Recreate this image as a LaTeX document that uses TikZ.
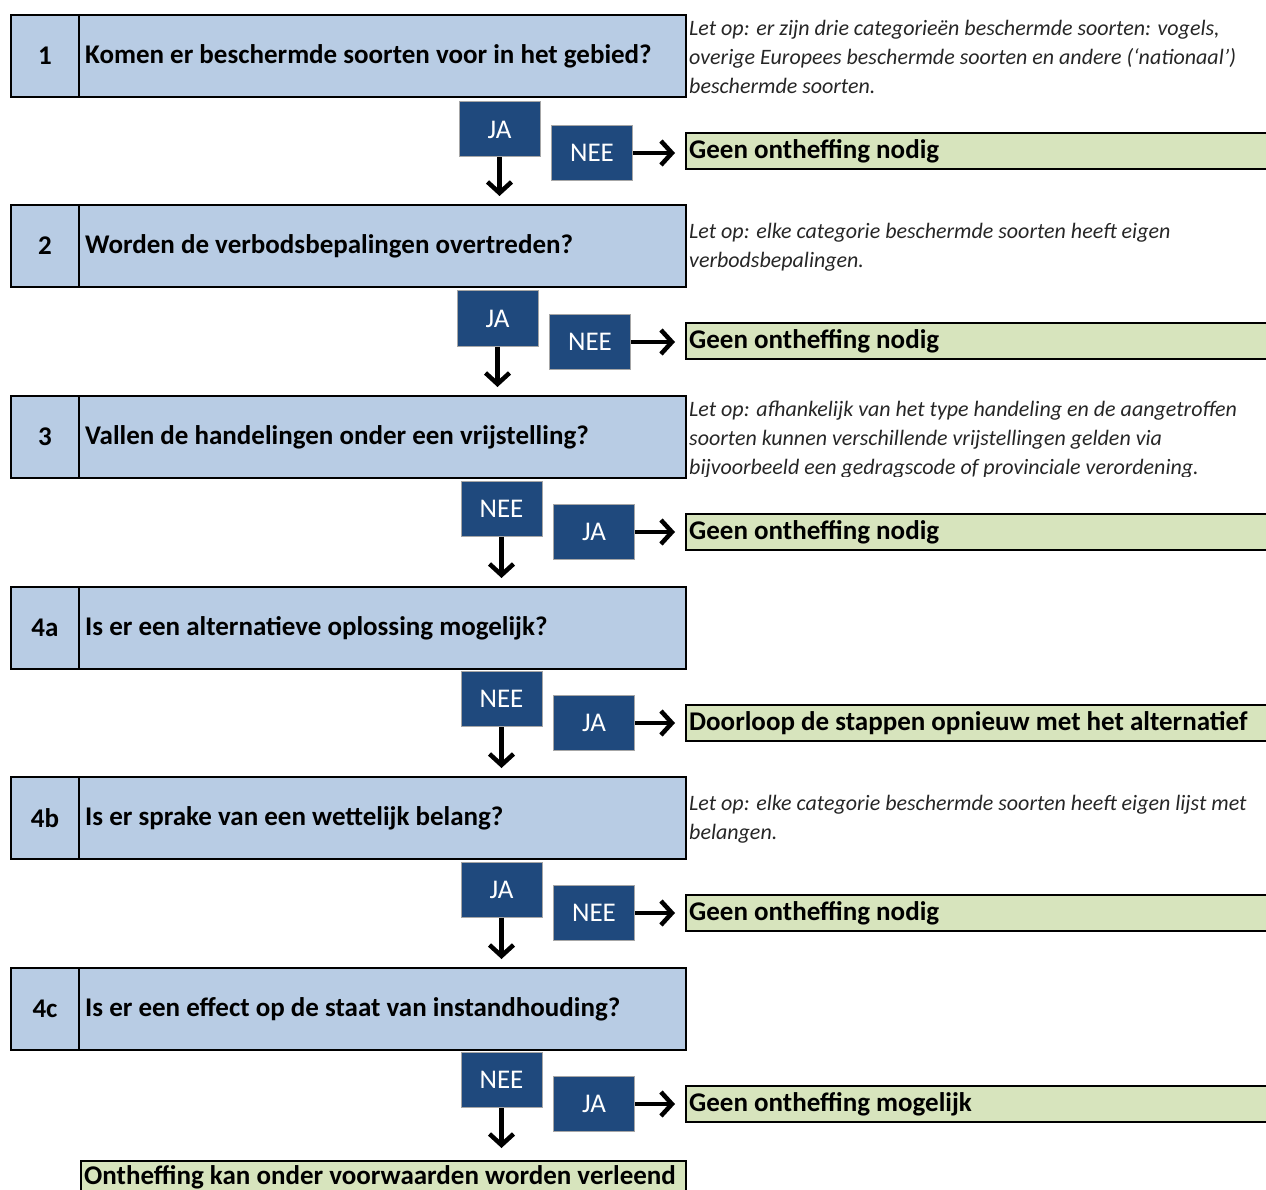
\documentclass[tikz,border=0pt]{standalone}
\usepackage{fontspec}
\setmainfont{Carlito}
\usetikzlibrary{arrows.meta}
\definecolor{qblue}{HTML}{B8CCE4}
\definecolor{dblue}{HTML}{1F497D}
\definecolor{lgreen}{HTML}{D7E4BD}
\definecolor{notegray}{HTML}{262626}
\begin{document}
\begin{tikzpicture}[x=1pt,y=-1pt,
  qframe/.style={draw=black, line width=2pt, fill=qblue, anchor=north west, minimum width=675pt, minimum height=82pt, inner sep=0pt},
  numtext/.style={inner sep=0pt, font=\bfseries\fontsize{27}{32}\selectfont},
  qtext/.style={anchor=west, inner sep=0pt, font=\bfseries\fontsize{27}{32}\selectfont},
  note/.style={anchor=north west, inner sep=0pt, align=left, text=notegray, font=\itshape\fontsize{22}{29}\selectfont},
  dec/.style={draw=black!35, line width=1pt, fill=dblue, text=white, minimum width=81pt, minimum height=55pt, inner sep=0pt, font=\fontsize{27}{30}\selectfont},
  gbox/.style={draw=black, line width=2pt, fill=lgreen, anchor=north west, minimum width=620pt, minimum height=36pt, inner sep=0pt},
  gtext/.style={anchor=west, inner sep=0pt, font=\bfseries\fontsize{27}{30}\selectfont},
  arr/.style={line width=4.5pt, -{Straight Barb[length=11pt,width=24pt]}}
]
\useasboundingbox (0,0) rectangle (1266,1190);
\clip (0,0) rectangle (1266,1190);

% ---------- Row 1
\node[qframe] (q1) at (10,14) {};
\draw[line width=2pt] ([xshift=69pt]q1.north west) -- ([xshift=69pt]q1.south west);
\node[numtext] (n1) at (45,56) {1};
\node[qtext] (t1) at (85,56) {Komen er beschermde soorten voor in het gebied?};
\node[note] (m1) at (689,20) {Let op: er zijn drie categorieën beschermde soorten: vogels,\\overige Europees beschermde soorten en andere (‘nationaal’)\\beschermde soorten.};
\node[dec] (a1) at (499.5,129.5) {JA};
\node[dec] (b1) at (592,153) {NEE};
\node[gbox] (g1) at (685,132) {};
\node[gtext] (gt1) at ([xshift=4pt]g1.west) {Geen ontheffing nodig};

% ---------- Row 2
\node[qframe] (q2) at (10,204) {};
\draw[line width=2pt] ([xshift=69pt]q2.north west) -- ([xshift=69pt]q2.south west);
\node[numtext] (n2) at (45,246) {2};
\node[qtext] (t2) at (85,246) {Worden de verbodsbepalingen overtreden?};
\node[note] (m2) at (689,223) {Let op: elke categorie beschermde soorten heeft eigen\\verbodsbepalingen.};
\node[dec] (a2) at (497.5,318.5) {JA};
\node[dec] (b2) at (590,342) {NEE};
\node[gbox] (g2) at (685,322) {};
\node[gtext] (gt2) at ([xshift=4pt]g2.west) {Geen ontheffing nodig};

% ---------- Row 3
\node[qframe] (q3) at (10,395) {};
\draw[line width=2pt] ([xshift=69pt]q3.north west) -- ([xshift=69pt]q3.south west);
\node[numtext] (n3) at (45,437) {3};
\node[qtext] (t3) at (85,437) {Vallen de handelingen onder een vrijstelling?};
\begin{scope}
\clip (686,396) rectangle (1266,476);
\node[note] (m3) at (689,401) {Let op: afhankelijk van het type handeling en de aangetroffen\\soorten kunnen verschillende vrijstellingen gelden via\\bijvoorbeeld een gedragscode of provinciale verordening.};
\end{scope}
\node[dec] (a3) at (501.5,508.5) {NEE};
\node[dec] (b3) at (594,532) {JA};
\node[gbox] (g3) at (685,513) {};
\node[gtext] (gt3) at ([xshift=4pt]g3.west) {Geen ontheffing nodig};

% ---------- Row 4a
\node[qframe] (q4) at (10,586) {};
\draw[line width=2pt] ([xshift=69pt]q4.north west) -- ([xshift=69pt]q4.south west);
\node[numtext] (n4) at (45,628) {4a};
\node[qtext] (t4) at (85,628) {Is er een alternatieve oplossing mogelijk?};
\node[dec] (a4) at (501.5,699) {NEE};
\node[dec] (b4) at (594,723) {JA};
\node[gbox] (g4) at (685,704) {};
\node[gtext] (gt4) at ([xshift=4pt]g4.west) {Doorloop de stappen opnieuw met het alternatief};

% ---------- Row 4b
\node[qframe] (q5) at (10,776) {};
\draw[line width=2pt] ([xshift=69pt]q5.north west) -- ([xshift=69pt]q5.south west);
\node[numtext] (n5) at (45,818) {4b};
\node[qtext] (t5) at (85,818) {Is er sprake van een wettelijk belang?};
\node[note] (m5) at (689,795) {Let op: elke categorie beschermde soorten heeft eigen lijst met\\belangen.};
\node[dec] (a5) at (501.5,889.5) {JA};
\node[dec] (b5) at (594,913) {NEE};
\node[gbox] (g5) at (685,894) {};
\node[gtext] (gt5) at ([xshift=4pt]g5.west) {Geen ontheffing nodig};

% ---------- Row 4c
\node[qframe] (q6) at (10,967) {};
\draw[line width=2pt] ([xshift=69pt]q6.north west) -- ([xshift=69pt]q6.south west);
\node[numtext] (n6) at (45,1009) {4c};
\node[qtext] (t6) at (85,1009) {Is er een effect op de staat van instandhouding?};
\node[dec] (a6) at (501.5,1080) {NEE};
\node[dec] (b6) at (594,1104) {JA};
\node[gbox] (g6) at (685,1085) {};
\node[gtext] (gt6) at ([xshift=4pt]g6.west) {Geen ontheffing mogelijk};

% ---------- Final
\node[gbox, minimum width=605pt, minimum height=40pt] (g7) at (80,1160) {};
\node[gtext, anchor=base west] (gt7) at (84,1184) {Ontheffing kan onder voorwaarden worden verleend};

% ---------- Connectors
\draw[arr, shorten >=8pt] (a1.south) -- (a1.south |- q2.north);
\draw[arr, shorten >=8pt] (a2.south) -- (a2.south |- q3.north);
\draw[arr, shorten >=8pt] (a3.south) -- (a3.south |- q4.north);
\draw[arr, shorten >=8pt] (a4.south) -- (a4.south |- q5.north);
\draw[arr, shorten >=8pt] (a5.south) -- (a5.south |- q6.north);
\draw[arr, shorten >=12pt] (a6.south) -- (a6.south |- g7.north);
\draw[arr, shorten >=10pt] (b1.east) -- (b1.east -| g1.west);
\draw[arr, shorten >=10pt] (b2.east) -- (b2.east -| g2.west);
\draw[arr, shorten >=10pt] (b3.east) -- (b3.east -| g3.west);
\draw[arr, shorten >=10pt] (b4.east) -- (b4.east -| g4.west);
\draw[arr, shorten >=10pt] (b5.east) -- (b5.east -| g5.west);
\draw[arr, shorten >=10pt] (b6.east) -- (b6.east -| g6.west);
\end{tikzpicture}
\end{document}
